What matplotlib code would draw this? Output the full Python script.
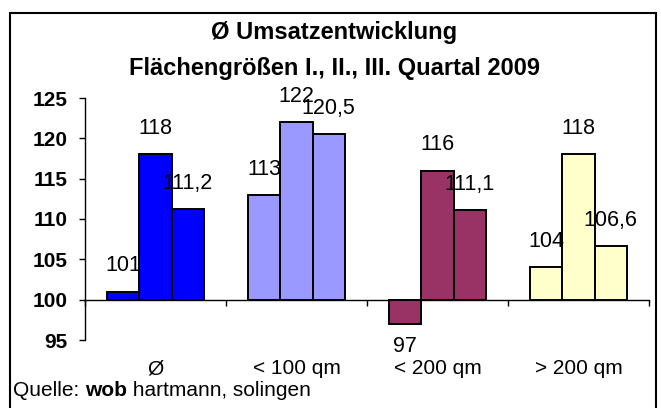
import matplotlib
matplotlib.use("Agg")
import matplotlib.pyplot as plt
import matplotlib.patches as patches
import numpy as np

plt.rcParams['font.family'] = ['Liberation Sans', 'DejaVu Sans']

categories = ["Ø", "< 100 qm", "< 200 qm", "> 200 qm"]
q1 = [101, 113, 97, 104]
q2 = [118, 122, 116, 118]
q3 = [111.2, 120.5, 111.1, 106.6]
label_q1 = ["101", "113", "97", "104"]
label_q2 = ["118", "122", "116", "118"]
label_q3 = ["111,2", "120,5", "111,1", "106,6"]
cat_colors = ["#0000FF", "#9999FF", "#993366", "#FFFFCC"]
yticks = [95, 100, 105, 110, 115, 120, 125]
baseline = 100

W, H = 661, 408
fig = plt.figure(figsize=(W / 100, H / 100), dpi=100)
ax = fig.add_axes([85 / W, 1 - 340 / H, (649 - 85) / W, (340 - 98) / H])

x = np.arange(len(categories))
bw = 0.228
series = [(q1, label_q1), (q2, label_q2), (q3, label_q3)]
for i, (vals, labs) in enumerate(series):
    off = (i - 1) * bw
    heights = [v - baseline for v in vals]
    ax.bar(x + off, heights, bw, bottom=baseline, color=cat_colors,
           edgecolor="black", linewidth=1.4, zorder=3)
    for xi, v, lab in zip(x, vals, labs):
        if v >= baseline:
            ax.annotate(lab, (xi + off, v), xytext=(0, 14.5), textcoords="offset points",
                        ha="center", va="baseline", fontsize=15.5, zorder=5)
        else:
            ax.annotate(lab, (xi + off, v), xytext=(0, -9), textcoords="offset points",
                        ha="center", va="top", fontsize=15.5, zorder=5)

ax.set_xlim(-0.5, len(categories) - 0.5)
ax.set_ylim(95, 125)
ax.set_yticks(yticks)
ax.set_yticklabels([str(t) for t in yticks], fontweight="bold", fontsize=15)
ax.tick_params(axis="y", length=4.5, width=1, pad=8, direction="out")

for s in ["top", "right"]:
    ax.spines[s].set_visible(False)
ax.spines["left"].set_linewidth(1)
ax.spines["bottom"].set_position(("data", baseline))
ax.spines["bottom"].set_linewidth(1)

ax.set_xticks(x)
ax.set_xticklabels(categories, fontsize=15)
ax.tick_params(axis="x", which="major", length=0, pad=43)
ax.set_xticks(np.arange(len(categories) + 1) - 0.5, minor=True)
ax.tick_params(axis="x", which="minor", length=4.5, width=1, direction="out")

# Titles
fig.text(334 / W, 1 - 33 / H, "Ø Umsatzentwicklung", ha="center", va="center",
         fontsize=17, fontweight="bold")
fig.text(334 / W, 1 - 68 / H, "Flächengrößen I., II., III. Quartal 2009", ha="center",
         va="center", fontsize=17, fontweight="bold")

# Source line
fig.canvas.draw()
r = fig.canvas.get_renderer()
ys = 1 - 391 / H
t1 = fig.text(13 / W, ys, "Quelle: ", ha="left", va="center", fontsize=15)
bb = t1.get_window_extent(r)
t2 = fig.text(bb.x1 / W, ys, "wob", ha="left", va="center", fontsize=15, fontweight="bold")
bb2 = t2.get_window_extent(r)
fig.text(bb2.x1 / W, ys, " hartmann, solingen", ha="left", va="center", fontsize=15)

# Outer border
fig.patches.append(patches.Rectangle((10 / W, -0.05), (656 - 10) / W, 1.05 - 13 / H,
                                     transform=fig.transFigure, fill=False,
                                     edgecolor="black", linewidth=1.5))

fig.savefig("out.png", dpi=100)
